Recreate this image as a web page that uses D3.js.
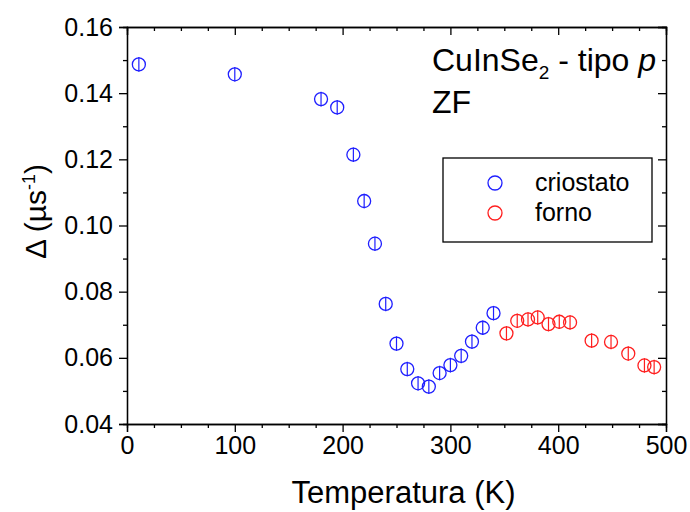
<!DOCTYPE html>
<html>
<head>
<meta charset="utf-8">
<script src="https://cdn.jsdelivr.net/npm/d3@7"></script>
<style>
  body { margin: 0; background: #fff; }
  svg text { font-family: "Liberation Sans", Arial, sans-serif; fill: #000; }
</style>
</head>
<body>
<div id="chart"></div>
<script>
// criostato (blue)
const tempCrio = [11, 100, 180, 195, 210, 220, 230, 240, 250, 260, 270, 280, 290, 300, 310, 320, 330, 340];
const deltaCrio = [0.1487, 0.1457, 0.1382, 0.1357, 0.1214, 0.1074, 0.0945, 0.0763, 0.0643, 0.0566, 0.0523, 0.0513, 0.0554, 0.0578, 0.0606, 0.0649, 0.0691, 0.0735];
// forno (red)
const tempForno = [352, 362, 372, 381, 391, 401, 411, 431, 449, 465, 480, 489];
const deltaForno = [0.0674, 0.0712, 0.0716, 0.0722, 0.0702, 0.0709, 0.0707, 0.0652, 0.0648, 0.0613, 0.0577, 0.0572];
const errDelta = 0.0022;

const xTicks = [0, 100, 200, 300, 400, 500];
const yTicks = [0.04, 0.06, 0.08, 0.10, 0.12, 0.14, 0.16];
const legendNames = ["criostato", "forno"];
const colors = ["#1f1fff", "#ff1f1f"];

const width = 690, height = 512;
const margin = {top: 27, right: 24, bottom: 88, left: 127};
const w = width - margin.left - margin.right;
const h = height - margin.top - margin.bottom;

const svg = d3.select("#chart").append("svg")
    .attr("width", width)
    .attr("height", height);

const g = svg.append("g")
    .attr("transform", "translate(" + margin.left + "," + margin.top + ")");

const x = d3.scaleLinear().domain([0, 500]).range([0, w]);
const y = d3.scaleLinear().domain([0.04, 0.16]).range([h, 0]);

const xMinor = d3.range(0, 501, 25).filter(v => v % 100 !== 0);
const yMinor = d3.range(0.05, 0.16, 0.02);

function styleAxis(sel) {
    sel.select(".domain").attr("stroke", "#000").attr("stroke-width", 1.3);
    sel.selectAll(".tick line").attr("stroke", "#000").attr("stroke-width", 1.3);
    sel.selectAll(".tick text").style("font-size", "25px");
}

// bottom axis
g.append("g")
    .attr("transform", "translate(0," + h + ")")
    .call(d3.axisBottom(x).tickValues(xTicks).tickSize(8).tickPadding(4).tickFormat(d3.format("d")))
    .call(styleAxis);
g.append("g")
    .attr("transform", "translate(0," + h + ")")
    .call(d3.axisBottom(x).tickValues(xMinor).tickSize(4).tickFormat(""))
    .call(styleAxis);

// top axis (inward)
g.append("g")
    .call(d3.axisTop(x).tickValues(xTicks).tickSize(-8).tickFormat(""))
    .call(styleAxis);
g.append("g")
    .call(d3.axisTop(x).tickValues(xMinor).tickSize(-4).tickFormat(""))
    .call(styleAxis);

// left axis
g.append("g")
    .call(d3.axisLeft(y).tickValues(yTicks).tickSize(8).tickPadding(6).tickFormat(d3.format(".2f")))
    .call(styleAxis);
g.append("g")
    .call(d3.axisLeft(y).tickValues(yMinor).tickSize(4).tickFormat(""))
    .call(styleAxis);

// right axis (inward)
g.append("g")
    .attr("transform", "translate(" + w + ",0)")
    .call(d3.axisRight(y).tickValues(yTicks).tickSize(-8).tickFormat(""))
    .call(styleAxis);
g.append("g")
    .attr("transform", "translate(" + w + ",0)")
    .call(d3.axisRight(y).tickValues(yMinor).tickSize(-4).tickFormat(""))
    .call(styleAxis);

// axis titles
svg.append("text")
    .attr("x", margin.left + w / 2 + 7)
    .attr("y", 503)
    .attr("text-anchor", "middle")
    .style("font-size", "31px")
    .text("Temperatura (K)");

const yLab = svg.append("text")
    .attr("transform", "translate(46," + (margin.top + h / 2 - 14) + ") rotate(-90)")
    .attr("text-anchor", "middle")
    .style("font-size", "30px");
yLab.append("tspan").text("\u0394 (\u00b5s");
yLab.append("tspan").attr("dy", -11).style("font-size", "18px").text("-1");
yLab.append("tspan").attr("dy", 11).text(")");

// data series
const series = [
    {temps: tempCrio, deltas: deltaCrio, color: colors[0]},
    {temps: tempForno, deltas: deltaForno, color: colors[1]}
];

series.forEach(s => {
    const pts = s.temps.map((t, i) => ({t: t, d: s.deltas[i]}));
    const grp = g.append("g");
    grp.selectAll("line.err")
        .data(pts)
        .enter()
        .append("line")
        .attr("class", "err")
        .attr("x1", d => x(d.t))
        .attr("x2", d => x(d.t))
        .attr("y1", d => y(d.d - errDelta))
        .attr("y2", d => y(d.d + errDelta))
        .attr("stroke", s.color)
        .attr("stroke-width", 1.2);
    grp.selectAll("circle")
        .data(pts)
        .enter()
        .append("circle")
        .attr("cx", d => x(d.t))
        .attr("cy", d => y(d.d))
        .attr("r", 6.5)
        .attr("fill", "none")
        .attr("stroke", s.color)
        .attr("stroke-width", 1.3);
});

// annotation
const ann = svg.append("text")
    .attr("x", 432)
    .attr("y", 71)
    .style("font-size", "32px");
ann.append("tspan").text("CuInSe");
ann.append("tspan").attr("dy", 8).style("font-size", "19px").text("2");
ann.append("tspan").attr("dy", -8).text(" - tipo ");
ann.append("tspan").style("font-style", "italic").text("p");

svg.append("text")
    .attr("x", 432)
    .attr("y", 113)
    .style("font-size", "32px")
    .text("ZF");

// legend
const legend = svg.append("g");
legend.append("rect")
    .attr("x", 443)
    .attr("y", 158)
    .attr("width", 209)
    .attr("height", 84)
    .attr("fill", "#fff")
    .attr("stroke", "#000")
    .attr("stroke-width", 1.3);

legendNames.forEach((name, i) => {
    const ly = 183 + i * 30;
    legend.append("circle")
        .attr("cx", 495)
        .attr("cy", ly)
        .attr("r", 7)
        .attr("fill", "none")
        .attr("stroke", colors[i])
        .attr("stroke-width", 1.3);
    legend.append("text")
        .attr("x", 535)
        .attr("y", ly + 8)
        .style("font-size", "25px")
        .text(name);
});
</script>
</body>
</html>
